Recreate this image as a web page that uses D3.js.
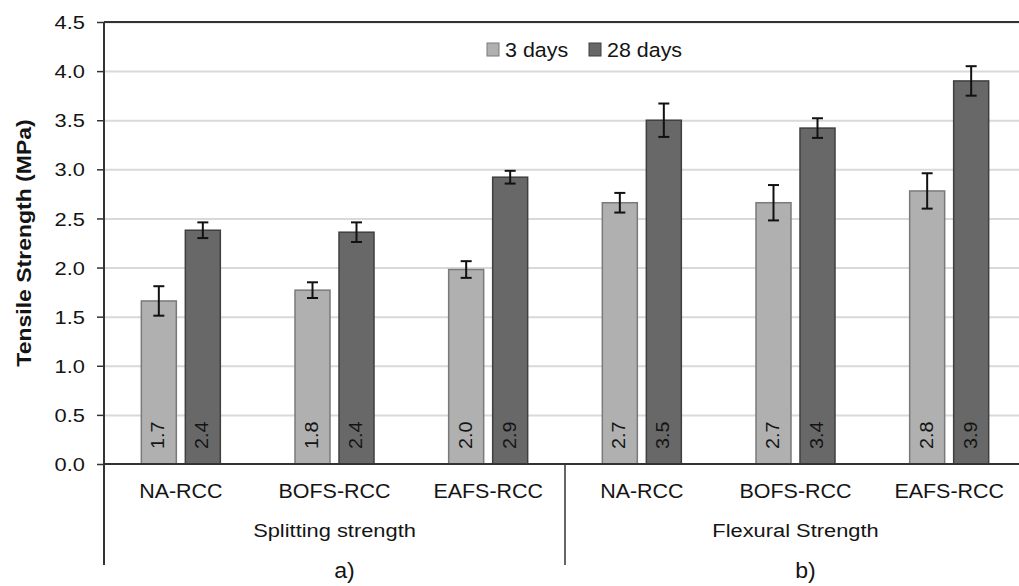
<!DOCTYPE html>
<html>
<head>
<meta charset="utf-8">
<script src="https://d3js.org/d3.v7.min.js"></script>
<style>
  body { margin: 0; background: #fff; }
  svg text { font-family: "Liberation Sans", Arial, sans-serif; fill: #141414; }
  .grid line { stroke: #d9d9d9; stroke-width: 2; }
</style>
</head>
<body>
<svg width="1019" height="586"></svg>
<script>
// data
var categories = ["NA-RCC", "BOFS-RCC", "EAFS-RCC", "NA-RCC", "BOFS-RCC", "EAFS-RCC"];
var groups = ["Splitting strength", "Flexural Strength"];
var groupLetters = ["a)", "b)"];
var series = ["3 days", "28 days"];
var days3 = [1.66, 1.77, 1.98, 2.66, 2.66, 2.78];
var days28 = [2.38, 2.36, 2.92, 3.50, 3.42, 3.90];
var err3 = [0.15, 0.08, 0.085, 0.10, 0.18, 0.18];
var err28 = [0.08, 0.10, 0.065, 0.17, 0.10, 0.15];
var yTicks = [0, 0.5, 1, 1.5, 2, 2.5, 3, 3.5, 4, 4.5];

var svg = d3.select("svg"),
    margin = {top: 22, left: 104},
    plotRight = 1026,
    width = plotRight - margin.left,
    height = 464 - margin.top;

var colors = {"3 days": "#b0b0b0", "28 days": "#686868"};
var strokes = {"3 days": "#7a7a7a", "28 days": "#3f3f3f"};

// text in the picture is a bit wider than Liberation Sans, so stretch it along its baseline
function place(x, y, rot, sx) {
  return "translate(" + x + "," + y + ")" + (rot ? " rotate(" + rot + ")" : "") + " scale(" + sx + ",1)";
}

var x0 = d3.scaleBand().domain(d3.range(categories.length)).range([0, width]);
var bw = x0.bandwidth();
var x1 = d3.scaleBand().domain(series)
  .range([bw / 2 - 39.5, bw / 2 + 39.5]).paddingInner(0.2045);
var y = d3.scaleLinear().domain([0, 4.5]).range([height, 0]);

var g = svg.append("g").attr("transform", "translate(" + margin.left + "," + margin.top + ")");

// gridlines
g.append("g").attr("class", "grid")
  .call(d3.axisLeft(y).tickValues(yTicks.slice(1)).tickSize(-width).tickFormat(""))
  .call(function(s) { s.select(".domain").remove(); });

// y axis
var ya = g.append("g")
  .call(d3.axisLeft(y).tickValues(yTicks).tickFormat(d3.format(".1f")).tickSize(7));
ya.select(".domain").remove();
ya.selectAll(".tick line").attr("stroke", "#333").attr("stroke-width", 1.5);
ya.selectAll(".tick text")
  .attr("x", 0).attr("dy", "0.35em")
  .attr("transform", place(-19, 0, 0, 1.15))
  .attr("font-size", "19px").attr("fill", "#141414")
  .style("font-family", "'Liberation Sans', Arial, sans-serif");

var data = categories.map(function(c, i) {
  return {i: i, vals: [
    {s: "3 days", v: days3[i], e: err3[i]},
    {s: "28 days", v: days28[i], e: err28[i]}
  ]};
});

var cg = g.selectAll(".cat").data(data).enter().append("g")
  .attr("transform", function(d) { return "translate(" + x0(d.i) + ",0)"; });

var bars = cg.selectAll(".b").data(function(d) { return d.vals; }).enter().append("g");

bars.append("rect")
  .attr("x", function(d) { return x1(d.s); })
  .attr("y", function(d) { return y(d.v); })
  .attr("width", x1.bandwidth())
  .attr("height", function(d) { return height - y(d.v); })
  .attr("fill", function(d) { return colors[d.s]; })
  .attr("stroke", function(d) { return strokes[d.s]; })
  .attr("stroke-width", 1.5);

// error bars
var cx = function(d) { return x1(d.s) + x1.bandwidth() / 2; };
bars.append("line")
  .attr("x1", cx).attr("x2", cx)
  .attr("y1", function(d) { return y(d.v + d.e); })
  .attr("y2", function(d) { return y(d.v - d.e); })
  .attr("stroke", "#111").attr("stroke-width", 2);
[1, -1].forEach(function(sg) {
  bars.append("line")
    .attr("x1", function(d) { return cx(d) - 5.5; })
    .attr("x2", function(d) { return cx(d) + 5.5; })
    .attr("y1", function(d) { return y(d.v + sg * d.e); })
    .attr("y2", function(d) { return y(d.v + sg * d.e); })
    .attr("stroke", "#111").attr("stroke-width", 2);
});

// value labels
bars.append("text")
  .attr("transform", function(d) { return place(cx(d) + 5.5, height - 15, -90, 1.1); })
  .attr("font-size", "18px")
  .text(function(d) { return d3.format(".1f")(d.v); });

// axes lines
g.append("line").attr("x1", 0).attr("x2", width).attr("y1", 0).attr("y2", 0)
  .attr("stroke", "#333").attr("stroke-width", 2);
g.append("line").attr("x1", 0).attr("x2", width).attr("y1", height).attr("y2", height)
  .attr("stroke", "#333").attr("stroke-width", 2);
g.append("line").attr("x1", 0).attr("x2", 0).attr("y1", 0).attr("y2", height + 101)
  .attr("stroke", "#333").attr("stroke-width", 2);

// category labels
g.selectAll(".catlab").data(categories).enter().append("text")
  .attr("transform", function(d, i) { return place(x0(i) + bw / 2, 498 - margin.top, 0, 1.1); })
  .attr("text-anchor", "middle")
  .attr("font-size", "19.5px")
  .text(function(d) { return d; });

// group separators and labels
var per = categories.length / groups.length;
groups.forEach(function(gname, k) {
  var left = x0(k * per), right = x0(k * per + per - 1) + bw;
  g.append("line").attr("x1", right).attr("x2", right)
    .attr("y1", height).attr("y2", height + 101)
    .attr("stroke", "#333").attr("stroke-width", 1.5);
  g.append("text").attr("transform", place((left + right) / 2, 537 - margin.top, 0, 1.15))
    .attr("text-anchor", "middle").attr("font-size", "19px").text(gname);
  g.append("text").attr("transform", place((left + right) / 2 + 10, 578 - margin.top, 0, 1.05))
    .attr("text-anchor", "middle").attr("font-size", "22px").text(groupLetters[k]);
});

// y title
svg.append("text")
  .attr("transform", place(31, 243, -90, 1.15))
  .attr("text-anchor", "middle")
  .attr("font-size", "20px").attr("font-weight", "bold")
  .text("Tensile Strength (MPa)");

// legend
var leg = svg.append("g").attr("transform", "translate(487,43)");
var lx = [0, 102];
series.forEach(function(s, i) {
  leg.append("rect").attr("x", lx[i]).attr("y", 0).attr("width", 12).attr("height", 13)
    .attr("fill", colors[s]).attr("stroke", strokes[s]);
  leg.append("text").attr("transform", place(lx[i] + 18, 14, 0, 1.1))
    .attr("font-size", "19.5px").text(s);
});
</script>
</body>
</html>
